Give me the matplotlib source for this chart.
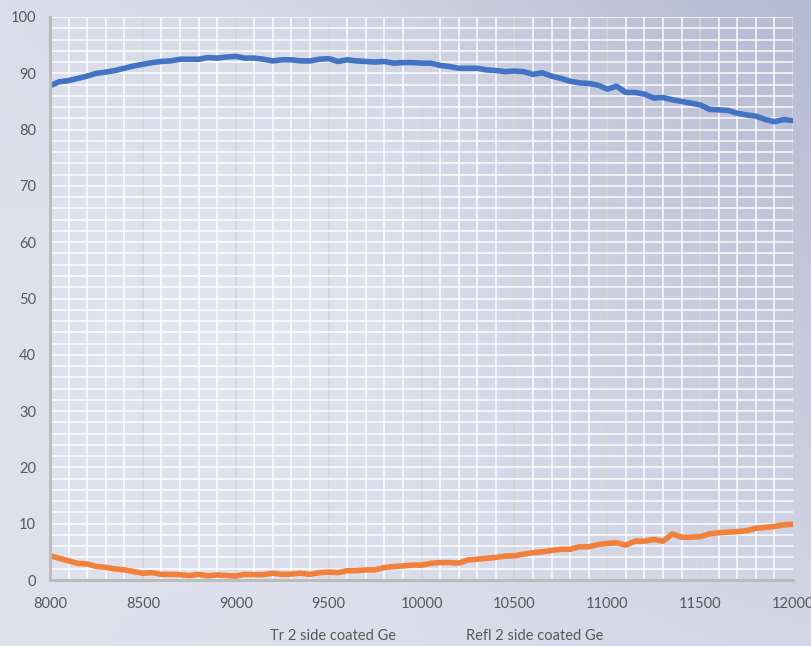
import numpy as np
import matplotlib
matplotlib.use('Agg')
import matplotlib.pyplot as plt
from matplotlib.ticker import MultipleLocator

# wavenumber / wavelength axis, read every 50 units
wl = list(range(8000, 12001, 50))

tr = [87.8, 88.5, 88.7, 89.1, 89.5, 90.0, 90.2, 90.5, 90.9, 91.3,
      91.6, 91.9, 92.1, 92.2, 92.5, 92.5, 92.5, 92.8, 92.7, 92.9,
      93.0, 92.7, 92.7, 92.5, 92.2, 92.4, 92.4, 92.2, 92.2, 92.5,
      92.6, 92.1, 92.4, 92.2, 92.1, 92.0, 92.1, 91.8, 91.9, 91.9,
      91.8, 91.8, 91.4, 91.2, 90.9, 90.9, 90.9, 90.6, 90.5, 90.3,
      90.4, 90.3, 89.8, 90.1, 89.5, 89.1, 88.6, 88.3, 88.2, 87.9,
      87.2, 87.7, 86.6, 86.6, 86.3, 85.6, 85.7, 85.3, 85.0, 84.7,
      84.4, 83.6, 83.5, 83.4, 82.9, 82.6, 82.4, 81.8, 81.4, 81.8,
      81.6]

refl = [4.3, 3.85, 3.4, 2.95, 2.85, 2.4, 2.25, 1.95, 1.8, 1.5,
        1.2, 1.3, 1.0, 1.0, 0.95, 0.8, 1.0, 0.75, 0.9, 0.8,
        0.7, 1.0, 0.95, 0.95, 1.2, 1.0, 1.05, 1.2, 1.0, 1.3,
        1.4, 1.3, 1.65, 1.65, 1.8, 1.8, 2.2, 2.4, 2.5, 2.65,
        2.65, 2.95, 3.1, 3.1, 3.0, 3.55, 3.7, 3.85, 4.0, 4.25,
        4.3, 4.6, 4.85, 5.0, 5.25, 5.45, 5.45, 5.9, 5.9, 6.3,
        6.5, 6.6, 6.2, 6.9, 6.9, 7.2, 6.9, 8.2, 7.6, 7.6,
        7.7, 8.2, 8.4, 8.5, 8.6, 8.75, 9.2, 9.35, 9.5, 9.8,
        9.9]

labels = ['Tr 2 side coated Ge', 'Refl 2 side coated Ge']
colors = ['#4273c4', '#f1813a']

plt.rcParams['font.family'] = ['Lato', 'DejaVu Sans']

fig = plt.figure(figsize=(8.12, 6.46), dpi=100)

# soft blue-grey background gradient
H, W = 646, 812
yy, xx = np.mgrid[0:H, 0:W] / np.array([H, W])[:, None, None]
tl = np.array([218, 221, 233]) / 255.
tr_c = np.array([180, 186, 209]) / 255.
bl = np.array([222, 225, 236]) / 255.
br = np.array([212, 215, 230]) / 255.
bg = ((1 - xx)[..., None] * (1 - yy)[..., None] * tl + xx[..., None] * (1 - yy)[..., None] * tr_c
      + (1 - xx)[..., None] * yy[..., None] * bl + xx[..., None] * yy[..., None] * br)
blob = np.exp(-(((xx - 0.33) / 0.3) ** 2 + ((yy - 0.45) / 0.45) ** 2))
bg = bg * (1 - 0.6 * blob[..., None]) + np.array([236, 238, 246]) / 255. * 0.6 * blob[..., None]
bgax = fig.add_axes([0, 0, 1, 1], zorder=-10)
bgax.imshow(bg, aspect='auto', interpolation='bicubic')
bgax.set_axis_off()

ax = fig.add_axes([50 / W, 1 - 580 / H, 743 / W, 563 / H])
ax.patch.set_alpha(0)

ax.plot(wl, tr, color=colors[0], lw=4.0, label=labels[0], solid_capstyle='round')
ax.plot(wl, refl, color=colors[1], lw=4.0, label=labels[1], solid_capstyle='round')

ax.set_xlim(8000, 12000)
ax.set_ylim(0, 100)
ax.xaxis.set_major_locator(MultipleLocator(500))
ax.xaxis.set_minor_locator(MultipleLocator(100))
ax.yaxis.set_major_locator(MultipleLocator(10))
ax.yaxis.set_minor_locator(MultipleLocator(2))

ax.grid(which='minor', color='white', lw=1.2, alpha=0.85)
ax.grid(which='major', axis='y', color='white', lw=1.2, alpha=0.85)
ax.grid(which='major', axis='x', color='#d4d4d4', lw=1.2)
ax.set_axisbelow(True)

for s in ['top', 'right']:
    ax.spines[s].set_visible(False)
for s in ['left', 'bottom']:
    ax.spines[s].set_color('#bcbcbc')
    ax.spines[s].set_linewidth(2.2)

ax.tick_params(which='both', length=0, colors='#595959', labelsize=10.5)
ax.tick_params(axis='x', pad=12)
ax.tick_params(axis='y', pad=10)

fig.legend(labels=labels, handles=ax.get_lines(), loc='center',
           bbox_to_anchor=(0.5 + 31 / W, 1 - 636 / H), ncol=2, frameon=False,
           handlelength=0, handletextpad=0, columnspacing=4.8,
           fontsize=10.5, labelcolor='#595959')
for h in fig.legends[0].legend_handles:
    h.set_visible(False)

fig.savefig('out.png', dpi=100)
